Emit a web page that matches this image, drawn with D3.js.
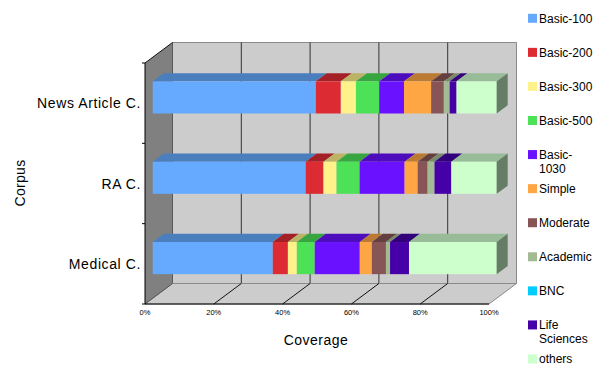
<!DOCTYPE html>
<html><head><meta charset="utf-8">
<script src="https://cdn.jsdelivr.net/npm/d3@7/dist/d3.min.js"></script>
<style>
body{margin:0;background:#fff;}
svg{display:block;font-family:"Liberation Sans",Arial,sans-serif;}
</style></head>
<body><svg id="c" width="593" height="365"></svg>
<script>
const categories = ["News Article C.", "RA C.", "Medical C."];
const seriesNames = ["Basic-100","Basic-200","Basic-300","Basic-500","Basic-1030","Simple","Moderate","Academic","BNC","Life Sciences","others"];
const seriesColors = ["#66aaff","#dd2b33","#fff28a","#4ce156","#6a12ff","#ffa644","#875555","#a3bb92","#00ccff","#4500a8","#ccffcc"];
const newsValues    = [47.5, 7.3, 4.4, 6.8, 7.2, 7.9, 3.7, 1.7, 0, 2.0, 11.7];
const raValues      = [44.5, 5.2, 3.8, 6.7, 13.1, 3.8, 2.9, 2.0, 0, 4.9, 13.2];
const medicalValues = [34.9, 4.4, 2.6, 5.2, 13.1, 3.5, 4.1, 1.2, 0, 5.5, 25.5];
const tickValues = [0, 0.2, 0.4, 0.6, 0.8, 1.0];
const xTitle = "Coverage", yTitle = "Corpus";

const rows = [newsValues, raValues, medicalValues].map((vals, i) => {
  const o = {cat: categories[i]};
  seriesNames.forEach((s, j) => o[s] = vals[j]);
  return o;
});
const stacked = d3.stack().keys(seriesNames).offset(d3.stackOffsetExpand)(rows);

const svg = d3.select("#c");
const X0 = 145, X1 = 489, Y0 = 63, Y1 = 304;
const DX = 27.5, DY = -20.5;
const f0 = 0.28, f1 = 0.68;

const x = d3.scaleLinear().domain([0, 1]).range([X0, X1]);
const y = d3.scaleBand().domain(categories).range([Y0, Y1]).paddingInner(0.6).paddingOuter(0.3);
const color = d3.scaleOrdinal().domain(seriesNames).range(seriesColors);
const pts = a => a.map(p => p.join(",")).join(" ");

// back wall
svg.append("polygon").attr("points", pts([[X0+DX,Y0+DY],[X1+DX,Y0+DY],[X1+DX,Y1+DY],[X0+DX,Y1+DY]]))
  .attr("fill","#cccccc").attr("stroke","#8a8a8a").attr("stroke-width",1);
svg.selectAll(".grid").data(tickValues).join("line")
  .attr("x1", d => x(d)+DX).attr("x2", d => x(d)+DX)
  .attr("y1", Y0+DY).attr("y2", Y1+DY)
  .attr("stroke", d => d === 1 ? "#8a8a8a" : "#333").attr("stroke-width", 1);
// floor
svg.append("polygon").attr("points", pts([[X0,Y1],[X1,Y1],[X1+DX,Y1+DY],[X0+DX,Y1+DY]]))
  .attr("fill","#cccccc").attr("stroke","#8a8a8a").attr("stroke-width",1);
svg.selectAll(".fl").data(tickValues.filter(d => d > 0 && d < 1)).join("line")
  .attr("x1", d => x(d)).attr("y1", Y1).attr("x2", d => x(d)+DX).attr("y2", Y1+DY)
  .attr("stroke","#111").attr("stroke-width",1);
// left wall
svg.append("polygon").attr("points", pts([[X0,Y0],[X0+DX,Y0+DY],[X0+DX,Y1+DY],[X0,Y1]]))
  .attr("fill","#808080");
svg.append("line").attr("x1",X0).attr("y1",Y0).attr("x2",X0+DX).attr("y2",Y0+DY).attr("stroke","#111");
svg.append("line").attr("x1",X0).attr("y1",Y1).attr("x2",X0+DX).attr("y2",Y1+DY).attr("stroke","#555");

// bars
const ox = f0*DX, oy = f0*DY, ddx = (f1-f0)*DX, ddy = (f1-f0)*DY;
categories.forEach((cat, ci) => {
  const g = svg.append("g");
  const yt = y(cat) + oy, bw = y.bandwidth();
  let last = null;
  stacked.forEach(layer => {
    const d = layer[ci];
    const xa = x(d[0]) + ox, xb = x(d[1]) + ox;
    if (xb - xa <= 0.01) return;
    const c = d3.color(color(layer.key));
    g.append("polygon").attr("points", pts([[xa,yt],[xb,yt],[xb+ddx,yt+ddy],[xa+ddx,yt+ddy]]))
      .attr("fill", c.darker(0.85));
    g.append("rect").attr("x", xa).attr("y", yt).attr("width", xb-xa).attr("height", bw)
      .attr("fill", c);
    last = {xb, c};
  });
  g.append("polygon").attr("points", pts([[last.xb,yt],[last.xb+ddx,yt+ddy],[last.xb+ddx,yt+ddy+bw],[last.xb,yt+bw]]))
    .attr("fill", last.c.darker(2));
});

// axes lines
svg.append("line").attr("x1",X0).attr("y1",Y0).attr("x2",X0).attr("y2",Y1).attr("stroke","#000");
svg.append("line").attr("x1",X0).attr("y1",Y1).attr("x2",X1).attr("y2",Y1).attr("stroke","#000");
const bounds = [Y0].concat(categories.map(c => y(c) + y.bandwidth() + y.step()*y.paddingInner()/2).slice(0,2)).concat([Y1]);
svg.selectAll(".yt").data(bounds).join("line")
  .attr("x1", X0-3).attr("x2", X0).attr("y1", d => d).attr("y2", d => d).attr("stroke","#000");

// category labels
svg.selectAll(".cl").data(categories).join("text")
  .attr("x", 141).attr("y", d => y(d) + y.bandwidth()/2 + 5)
  .attr("text-anchor","end").attr("font-size", 14).attr("letter-spacing", 0.6)
  .attr("fill","#000").text(d => d);
// x tick labels
svg.selectAll(".xl").data(tickValues).join("text")
  .attr("x", d => x(d)).attr("y", 314.5).attr("text-anchor","middle")
  .attr("font-size", 7.5).attr("fill","#000").text(d => d3.format(".0%")(d));
// titles
svg.append("text").attr("x", 316).attr("y", 345).attr("text-anchor","middle")
  .attr("font-size", 14).attr("letter-spacing", 0.5).text(xTitle);
svg.append("text").attr("transform","translate(25,183) rotate(-90)").attr("text-anchor","middle")
  .attr("font-size", 14).attr("letter-spacing", 0.3).text(yTitle);

// legend
const ly = d3.scalePoint().domain(seriesNames).range([18.3, 359]);
const lg = svg.append("g");
seriesNames.forEach(s => {
  lg.append("rect").attr("x", 528).attr("y", ly(s) - 4.5).attr("width", 9).attr("height", 9).attr("fill", color(s));
  const t = lg.append("text").attr("x", 539).attr("y", ly(s) + 4.4).attr("font-size", 12).attr("fill","#000");
  t.text(s);
  if (t.node().getComputedTextLength() > 55) {
    let i = s.lastIndexOf(" "), l1, l2;
    if (i > 0) { l1 = s.slice(0, i); l2 = s.slice(i+1); }
    else { i = s.indexOf("-"); l1 = s.slice(0, i+1); l2 = s.slice(i+1); }
    t.text(null);
    t.append("tspan").attr("x", 539).text(l1);
    t.append("tspan").attr("x", 539).attr("dy", 14).text(l2);
  }
});
</script></body></html>
